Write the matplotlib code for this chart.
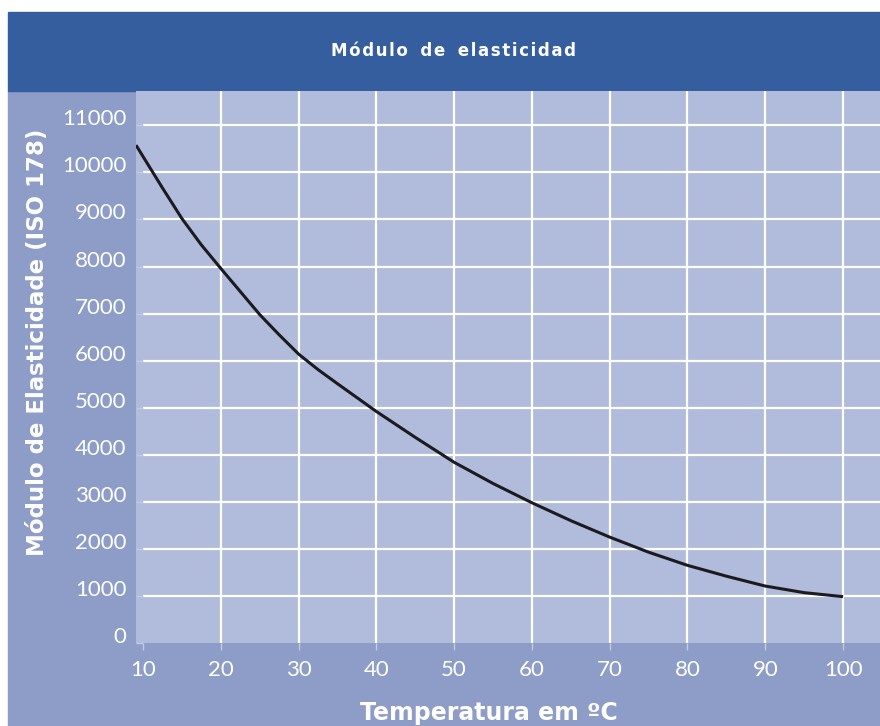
import matplotlib

matplotlib.use("Agg")
import matplotlib.pyplot as plt
from matplotlib.patches import Rectangle

# data
temperature = [9.1, 12.5, 15, 17.5, 20, 25, 27.5, 30, 32.5, 35, 40, 45, 50, 55, 60,
               65, 70, 75, 80, 85, 90, 95, 100]
modulus = [10580, 9670, 9020, 8460, 7960, 6980, 6550, 6140, 5810, 5510, 4920, 4370,
           3840, 3390, 2980, 2600, 2250, 1930, 1650, 1420, 1210, 1070, 985]
x_ticks = [10, 20, 30, 40, 50, 60, 70, 80, 90, 100]
y_ticks = [0, 1000, 2000, 3000, 4000, 5000, 6000, 7000, 8000, 9000, 10000, 11000]

title = "Módulo de elasticidad"
x_label = "Temperatura em ºC"
y_label = "Módulo de Elasticidade (ISO 178)"

band_color = "#345e9e"
outer_color = "#8d9dc8"
plot_color = "#b1bbdc"
tick_color = "#c3cae6"

W, H = 880, 726
fig = plt.figure(figsize=(W / 100, H / 100), dpi=100, facecolor="white")

# background panels (behind the axes)
fig.patches.append(Rectangle((8 / W, 0), 1 - 8 / W, (H - 91) / H,
                             transform=fig.transFigure, color=outer_color, zorder=-2))
fig.patches.append(Rectangle((8 / W, (H - 91) / H), 1 - 8 / W, 79 / H,
                             transform=fig.transFigure, color=band_color, zorder=-2))

ax = fig.add_axes([136 / W, (H - 643) / H, (W - 136) / W, (643 - 91) / H])
ax.set_facecolor(plot_color)
for s in ax.spines.values():
    s.set_visible(False)

ax.set_xlim(9.1, 104.75)
ax.set_ylim(0, 11730)

# grid: horizontals start at 10, verticals from 20 on
ax.hlines(y_ticks[1:], 10, 104.75, colors="white", linewidth=1.6, zorder=1)
ax.vlines(x_ticks[1:], 0, 11730, colors="white", linewidth=1.6, zorder=1)

ax.plot(temperature, modulus, color="#1c1a1e", linewidth=2.2, zorder=3,
        solid_capstyle="butt", solid_joinstyle="round")

ax.set_xticks(x_ticks)
ax.set_yticks(y_ticks)
ax.tick_params(axis="x", direction="out", length=5, width=1, color=tick_color,
               pad=7, labelcolor="white", labelsize=16)
ax.tick_params(axis="y", direction="in", length=5, width=1, color=tick_color,
               pad=7, labelcolor="white", labelsize=16)
for lab in ax.get_xticklabels() + ax.get_yticklabels():
    lab.set_family("Lato")
for lab in ax.get_yticklabels():
    lab.set_va("baseline")

# spaced-out title in the band
spaced = "\u200a".join(title).replace("\u200a \u200a", "\u2009 \u2009")
fig.text(453 / W, 1 - 51 / H, spaced, color="white", fontsize=12,
         fontweight="bold", ha="center", va="center")

fig.text(489 / W, 6 / H, x_label, color="white", fontsize=17,
         fontweight="bold", ha="center", va="baseline")
fig.text(38 / W, 1 - 342 / H, y_label, color="white", fontsize=16.5,
         fontweight="bold", ha="center", va="center", rotation=90)

fig.savefig("out.png", dpi=100, facecolor="white")
